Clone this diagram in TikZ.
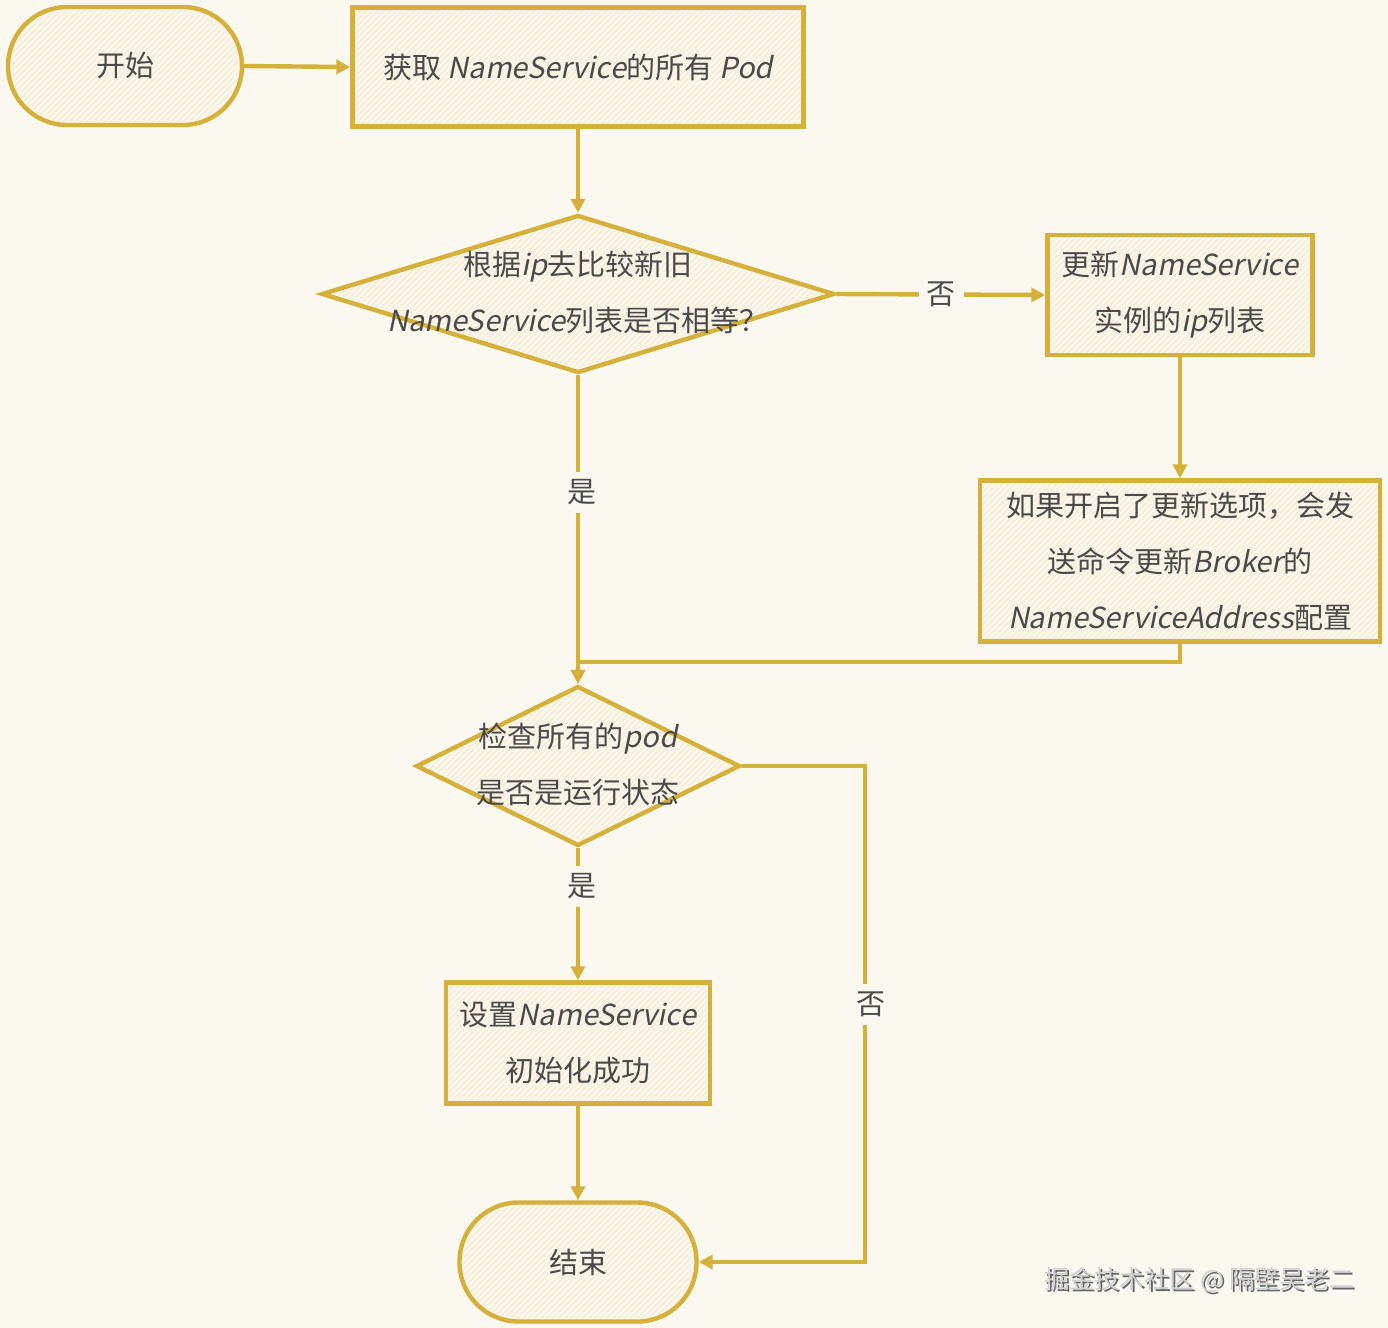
\documentclass[tikz,border=0pt]{standalone}
\usepackage{fontspec}
\setmainfont{Noto Sans CJK SC}
\newfontfamily\lat{Noto Sans CJK SC}[FakeSlant=0.2]
\usetikzlibrary{shapes.geometric,arrows.meta,patterns}
\definecolor{bg}{HTML}{FBF8EF}
\definecolor{gold}{HTML}{D5B13B}
\definecolor{fillc}{HTML}{F8F0DC}
\definecolor{txtc}{HTML}{4A4A4A}
\newcommand{\la}[1]{{\lat #1}}
\tikzset{
  shapebase/.style={draw=gold, line width=2.2pt,
    preaction={fill=fillc},
    preaction={pattern=north east lines, pattern color=white},
    text=txtc, font=\fontsize{14.5}{28}\selectfont, align=center, inner sep=0pt},
  procbox/.style={shapebase, rectangle},
  termbox/.style={shapebase, rectangle, rounded corners=29.5pt},
  decbox/.style={shapebase, diamond},
  lbltext/.style={text=txtc, font=\fontsize{14.5}{28}\selectfont, align=center, inner sep=0pt},
  edgelbl/.style={fill=bg, text=txtc, font=\fontsize{14.5}{16}\selectfont, inner sep=4pt},
  conn/.style={draw=gold, line width=2.2pt, -{Triangle[length=7pt,width=7pt]}},
}
\begin{document}
\begin{tikzpicture}[x=0.5pt,y=-0.5pt]
\fill[bg] (0,0) rectangle (1388,1328);
\useasboundingbox (0,0) rectangle (1388,1328);

\node[termbox, minimum width=117pt, minimum height=59pt] (start) at (125,66) {开始};
\node[procbox, minimum width=225.5pt, minimum height=59.5pt] (b1) at (578,67) {获取 \la{NameService}的所有 \la{Pod}};
\node[decbox, minimum width=256.5pt, minimum height=79pt] (d1) at (578,294) {};
\node[lbltext] (d1t) at (578,292) {根据\la{ip}去比较新旧\\\la{NameService}列表是否相等？};
\node[procbox, minimum width=132.5pt, minimum height=60pt] (b2) at (1180,295) {更新\la{NameService}\\实例的\la{ip}列表};
\node[procbox, minimum width=200pt, minimum height=80.5pt] (b3) at (1180,561) {如果开启了更新选项，会发\\送命令更新\la{Broker}的\\\la{NameServiceAddress}配置};
\node[decbox, minimum width=162pt, minimum height=80pt] (d2) at (578,766) {};
\node[lbltext] (d2t) at (578,764) {检查所有的\la{pod}\\是否是运行状态};
\node[procbox, minimum width=132pt, minimum height=60.5pt] (b4) at (578,1043) {设置\la{NameService}\\初始化成功};
\node[termbox, minimum width=118.5pt, minimum height=59.5pt] (end) at (578,1262) {结束};

\coordinate (j) at (578,662);
\coordinate (k) at (865,766);

\draw[conn] (start.east) -- (b1.west);
\draw[conn] (b1.south) -- (d1.north);
\draw[conn] (d1.east) -- node[edgelbl]{否} (b2.west);
\draw[conn] (b2.south) -- (b3.north);
\draw[conn] (d1.south) -- node[edgelbl, pos=0.38, xshift=2pt]{是} (d2.north);
\draw[conn] (b3.south) |- (j) -- (d2.north);
\draw[conn] (d2.south) -- node[edgelbl, pos=0.29, xshift=2pt]{是} (b4.north);
\draw[conn] (b4.south) -- (end.north);
\draw[conn] (d2.east) -- (k) |- node[edgelbl, pos=0.24, xshift=3pt]{否} (end.east);

\node[text=black!60, font=\fontsize{12.5}{14}\selectfont, anchor=west, inner sep=0pt] (wms) at (1046,1282) {掘金技术社区 @ 隔壁吴老二};
\node[text=black!18, font=\fontsize{12.5}{14}\selectfont, anchor=west, inner sep=0pt] (wm) at (1044,1280) {掘金技术社区 @ 隔壁吴老二};
\end{tikzpicture}
\end{document}
